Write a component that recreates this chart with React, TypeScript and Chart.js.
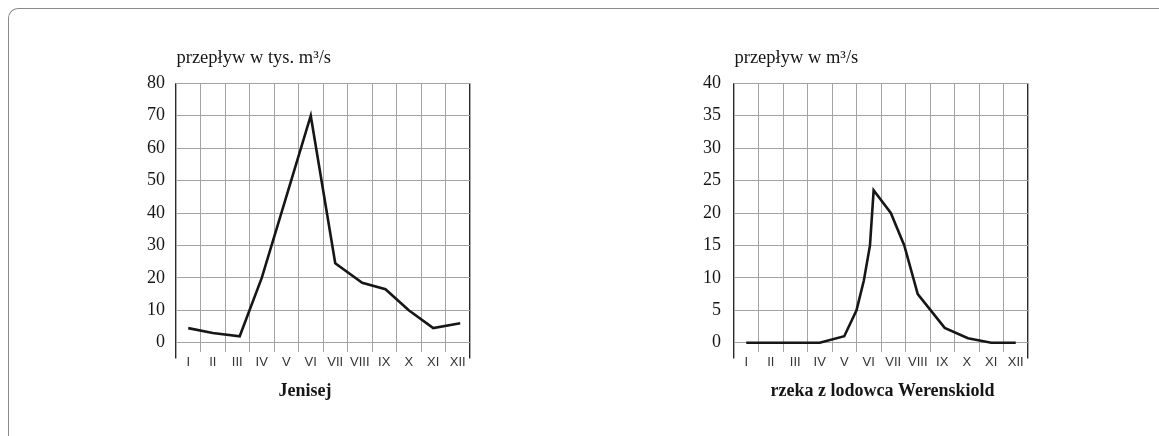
import React, { useEffect, useRef } from "react";
import { Chart, registerables } from "chart.js";

Chart.register(...registerables);

// ---- data ----
const months = ["I", "II", "III", "IV", "V", "VI", "VII", "VIII", "IX", "X", "XI", "XII"];

const jenisejTitle = "przepływ w tys. m³/s";
const jenisejCaption = "Jenisej";
const jenisejX = [1, 2, 3.1, 4, 5, 6, 7, 8.1, 9.05, 10, 11, 12.1];
const jenisejY = [4.5, 3, 2, 20, 45, 70, 24.5, 18.5, 16.5, 10, 4.5, 6];
const jenisejTicks = [0, 10, 20, 30, 40, 50, 60, 70, 80];

const werenTitle = "przepływ w m³/s";
const werenCaption = "rzeka z lodowca Werenskiold";
const werenX = [1, 2, 3, 4, 5, 5.5, 5.8, 6.05, 6.2, 6.9, 7.45, 8, 9.1, 10.05, 11, 12];
const werenY = [0, 0, 0, 0, 1, 5, 9.6, 15, 23.5, 20, 15, 7.5, 2.3, 0.7, 0, 0];
const werenTicks = [0, 5, 10, 15, 20, 25, 30, 35, 40];

// ---- styles ----
const GRID = "#a3a3a3";
const FRAME = "#2a2a2a";
const INK = "#161616";
const SERIF = '"Liberation Serif", "Times New Roman", serif';
const SANS = '"Liberation Sans", Arial, sans-serif';

const textPlugin = {
  id: "texts",
  afterDraw(chart: any, _args: any, opts: any) {
    const { ctx, chartArea } = chart;
    ctx.save();
    ctx.fillStyle = INK;
    ctx.font = `18.5px ${SERIF}`;
    ctx.textAlign = "left";
    ctx.textBaseline = "alphabetic";
    ctx.fillText(opts.title, chartArea.left + 0.5, chartArea.top - opts.titleDy);
    ctx.font = `bold 18px ${SERIF}`;
    ctx.textAlign = "center";
    ctx.textBaseline = "middle";
    ctx.fillText(
      opts.caption,
      (chartArea.left + chartArea.right) / 2 + opts.captionDx,
      chartArea.bottom + opts.captionDy
    );
    ctx.restore();
  },
};

function isEdge(v: number) {
  return v === 0.5 || v === months.length + 0.5;
}

function makeConfig(
  xs: number[],
  ys: number[],
  yTicks: number[],
  yMin: number,
  yPad: number,
  title: string,
  caption: string,
  captionDx: number
): any {
  return {
    type: "line",
    data: {
      datasets: [
        {
          data: xs.map((x, i) => ({ x, y: ys[i] })),
          borderColor: INK,
          borderWidth: 2.6,
          pointRadius: 0,
          tension: 0,
          fill: false,
          borderJoinStyle: "miter",
        },
      ],
    },
    options: {
      responsive: false,
      animation: false,
      layout: { padding: { top: 43.3, left: 0, right: 50, bottom: 28.5 } },
      plugins: {
        legend: { display: false },
        tooltip: { enabled: false },
        texts: { title, caption, captionDx, titleDy: 20.3, captionDy: 39.5 },
      },
      scales: {
        x: {
          type: "linear",
          min: 0.5,
          max: months.length + 0.5,
          afterBuildTicks: (s: any) => {
            const t: any[] = [];
            months.forEach((_, i) => {
              t.push({ value: i + 0.5 });
              t.push({ value: i + 1 });
            });
            t.push({ value: months.length + 0.5 });
            s.ticks = t;
          },
          afterFit: (s: any) => {
            s.height = 30;
          },
          border: { display: false },
          grid: {
            color: (c: any) => {
              const v = c.tick ? c.tick.value : 0;
              if (isEdge(v)) return FRAME;
              return Number.isInteger(v) ? "rgba(0,0,0,0)" : GRID;
            },
            tickColor: (c: any) => {
              const v = c.tick ? c.tick.value : 0;
              return isEdge(v) ? FRAME : "rgba(0,0,0,0)";
            },
            lineWidth: (c: any) => {
              const v = c.tick ? c.tick.value : 0;
              return isEdge(v) ? 1.4 : 1;
            },
            tickLength: 7,
          },
          ticks: {
            autoSkip: false,
            maxRotation: 0,
            minRotation: 0,
            padding: -4,
            color: "#333",
            font: { family: SANS, size: 13 },
            callback: (v: any) => (Number.isInteger(v) ? months[v - 1] : ""),
          },
        },
        y: {
          min: yMin,
          max: yTicks[yTicks.length - 1],
          afterBuildTicks: (s: any) => {
            s.ticks = yTicks.map((v) => ({ value: v }));
          },
          afterFit: (s: any) => {
            s.width = 80;
          },
          border: { display: false },
          grid: { color: GRID, drawTicks: false, lineWidth: 1 },
          ticks: {
            padding: yPad,
            color: INK,
            font: { family: SERIF, size: 18 },
          },
        },
      },
    },
    plugins: [textPlugin],
  };
}

function ChartCanvas({ config, left }: { config: any; left: number }) {
  const ref = useRef<HTMLCanvasElement | null>(null);
  useEffect(() => {
    if (!ref.current) return;
    const chart = new Chart(ref.current, config);
    return () => chart.destroy();
  }, [config]);
  return (
    <canvas
      ref={ref}
      width={424}
      height={370}
      style={{ position: "absolute", left, top: 40, width: 424, height: 370 }}
    />
  );
}

const cfgLeft = makeConfig(jenisejX, jenisejY, jenisejTicks, -2.7, 11, jenisejTitle, jenisejCaption, -18);
const cfgRight = makeConfig(werenX, werenY, werenTicks, -1.35, 13, werenTitle, werenCaption, 1.5);

export default function App() {
  return (
    <div
      style={{
        position: "fixed",
        left: 0,
        top: 0,
        width: 1159,
        height: 436,
        overflow: "hidden",
        background: "#fff",
      }}
    >
      <div
        style={{
          position: "absolute",
          left: 8,
          top: 8,
          width: 1200,
          height: 500,
          borderTop: "1px solid #8a8a8a",
          borderLeft: "1px solid #8a8a8a",
          borderTopLeftRadius: 10,
        }}
      />
      <ChartCanvas config={cfgLeft} left={96} />
      <ChartCanvas config={cfgRight} left={654} />
    </div>
  );
}
